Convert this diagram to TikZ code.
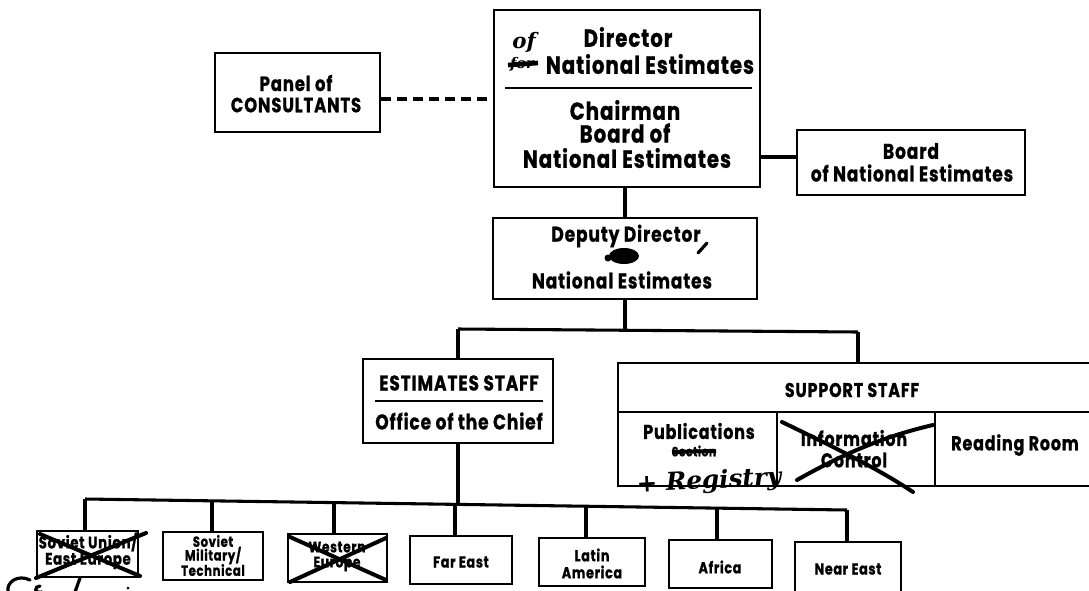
\documentclass[tikz,border=0pt]{standalone}
\usepackage{fontspec}
\newfontfamily\fu{Poppins}[FakeStretch=0.80, LetterSpace=4, BoldFeatures={FakeBold=0.8}]
\newfontfamily\hand{DejaVu Serif}
\usetikzlibrary{fit}
\begin{document}
\begin{tikzpicture}[x=0.75pt,y=-0.75pt,
  box/.style={draw, line width=2pt, inner sep=0pt},
  ln/.style={line width=2.3pt},
  tx/.style={inner sep=0pt, font=\fu\bfseries\fontsize{#1}{#1}\selectfont},
  hw/.style={inner sep=0pt, font=\hand\bfseries\itshape\fontsize{#1}{#1}\selectfont},
  cross/.style={line width=3pt, line cap=round},
  pen/.style={line width=2.4pt, line cap=round},
]
\useasboundingbox (0,0) rectangle (1089,590);
\fill[white] (0,0) rectangle (1089,590);

% ---------- Director box
\node[box, fit={(494,10)(760,187)}] (dir) {};
\draw[line width=1.4pt] (505,88) -- (752,88);
\node[tx=18.5] (d1) at (628,37) {Director};
\node[tx=18.5] (d2) at (650,64) {National Estimates};
\node[hw=16] (of) at (524,42) {of};
\node[hw=11] (for) at (522,64) {for};
\draw[line width=3.5pt] (508,65) -- (538,63);
\node[tx=18.5] (d3) at (625,110) {Chairman};
\node[tx=18.5] (d4) at (625,133) {Board of};
\node[tx=18.5] (d5) at (627,158) {National Estimates};

% ---------- Panel of consultants
\node[box, fit={(215,53)(380,132)}] (pan) {};
\node[tx=15.5] (p1) at (296,83) {Panel of};
\node[tx=15.5] (p2) at (296,105) {CONSULTANTS};
\coordinate (dy) at (0,99);
\draw[ln, dash pattern=on 7pt off 5pt] (pan.east |- dy) -- (dir.west |- dy);

% ---------- Board of National Estimates
\node[box, fit={(797,130)(1025,195)}] (brd) {};
\node[tx=16] (b1t) at (911,151) {Board};
\node[tx=16] (b2t) at (912,173) {of National Estimates};
\coordinate (by) at (0,157);
\draw[ln] (dir.east |- by) -- (brd.west |- by);

% ---------- Deputy Director
\node[box, fit={(493,218)(757,299)}] (dep) {};
\node[tx=16] (e1) at (626,236) {Deputy Director};
\node[tx=16] (e2) at (622,280) {National Estimates};
\fill (624,256) ellipse [x radius=15, y radius=8];
\fill (608,258) circle [radius=3.5];
\draw[pen] (698,253) -- (707,243);
\draw[ln] (dir.south -| dep.north) -- (dep.north);

% ---------- Estimates staff
\node[box, fit={(363,359)(553,443)}] (est) {};
\draw[line width=1.4pt] (375,401) -- (543,401);
\node[tx=16] (s1) at (459,383) {ESTIMATES STAFF};
\node[tx=16] (s2) at (459,421) {Office of the Chief};

% ---------- Support staff
\node[box, fit={(618,363)(1100,486)}] (sup) {};
\draw[line width=1.8pt] (618,412) -- (1100,412);
\draw[line width=1.8pt] (777,412) -- (777,486);
\draw[line width=1.8pt] (935,412) -- (935,486);
\node[tx=15] (u0) at (852,390) {SUPPORT STAFF};
\node[tx=15] (u1) at (699,431) {Publications};
\node[tx=10] (u2) at (694,451) {Section};
\draw[line width=3pt] (672,452) -- (716,451);
\node[hw=18.5, rotate=3] (reg) at (709,482) {+ Registry};
\node[tx=15] (u3) at (854,438) {Information};
\node[tx=15] (u4) at (854,460) {Control};
\draw[cross] (782,422) .. controls (840,450) and (880,470) .. (913,492);
\draw[cross] (797,480) .. controls (850,450) and (890,435) .. (933,425);
\node[tx=15] (u5) at (1015,445) {Reading Room};

% ---------- connectors from deputy
\coordinate (jl) at (458,329);
\coordinate (jr) at (858,332);
\draw[ln] (dep.south) -- (dep.south |- jl);
\draw[ln] (jl) -- (jr);
\draw[ln] (jl) -- (jl |- est.north);
\draw[ln] (jr) -- (jr |- sup.north);

% ---------- branch boxes
\node[box, fit={(37,531)(138,577)}] (r1) {};
\node[tx=12.5] at (88,542) {Soviet Union/};
\node[tx=12.5] at (88,561) {East Europe};
\draw[cross] (40,534) -- (140,576);
\draw[cross] (36,578) -- (146,533);

\node[box, fit={(163,532)(263,580)}] (r2) {};
\node[tx=11] at (213,541) {Soviet};
\node[tx=11] at (213,555.5) {Military/};
\node[tx=11] at (213,570) {Technical};

\node[box, fit={(288,534)(387,582)}] (r3) {};
\node[tx=11.5] at (337,547) {Western};
\node[tx=11.5] at (337,564) {Europe};
\draw[cross] (290,537) -- (386,580);
\draw[cross] (290,582) -- (386,538);

\node[box, fit={(410,536)(512,584)}] (r4) {};
\node[tx=12] at (461,562) {Far East};

\node[box, fit={(539,538)(645,586)}] (r5) {};
\node[tx=12] at (592,555) {Latin};
\node[tx=12] at (592,572) {America};

\node[box, fit={(669,540)(772,588)}] (r6) {};
\node[tx=12] at (720,567) {Africa};

\node[box, fit={(795,542)(901,592)}] (r7) {};
\node[tx=12] at (848,569) {Near East};

% ---------- bus
\coordinate (c1) at (85,499);
\coordinate (c2) at (212,501);
\coordinate (c3) at (334,502);
\coordinate (c4) at (455,504);
\coordinate (c5) at (586,506);
\coordinate (c6) at (717,508);
\coordinate (c7) at (847,510);
\draw[ln] (c1) -- (c7);
\draw[ln] (est.south) -- (est.south |- c4);
\foreach \i in {1,...,7} {\draw[ln] (c\i) -- (c\i |- r\i.north);}

% ---------- handwriting at lower left
\draw[pen] (30,580) .. controls (18,574) and (6,582) .. (8,592);
\draw[pen] (40,586) .. controls (34,586) and (34,594) .. (42,592);
\draw[pen] (80,578) -- (75,592);
\fill (128,588) circle [radius=1.5];
\end{tikzpicture}
\end{document}
